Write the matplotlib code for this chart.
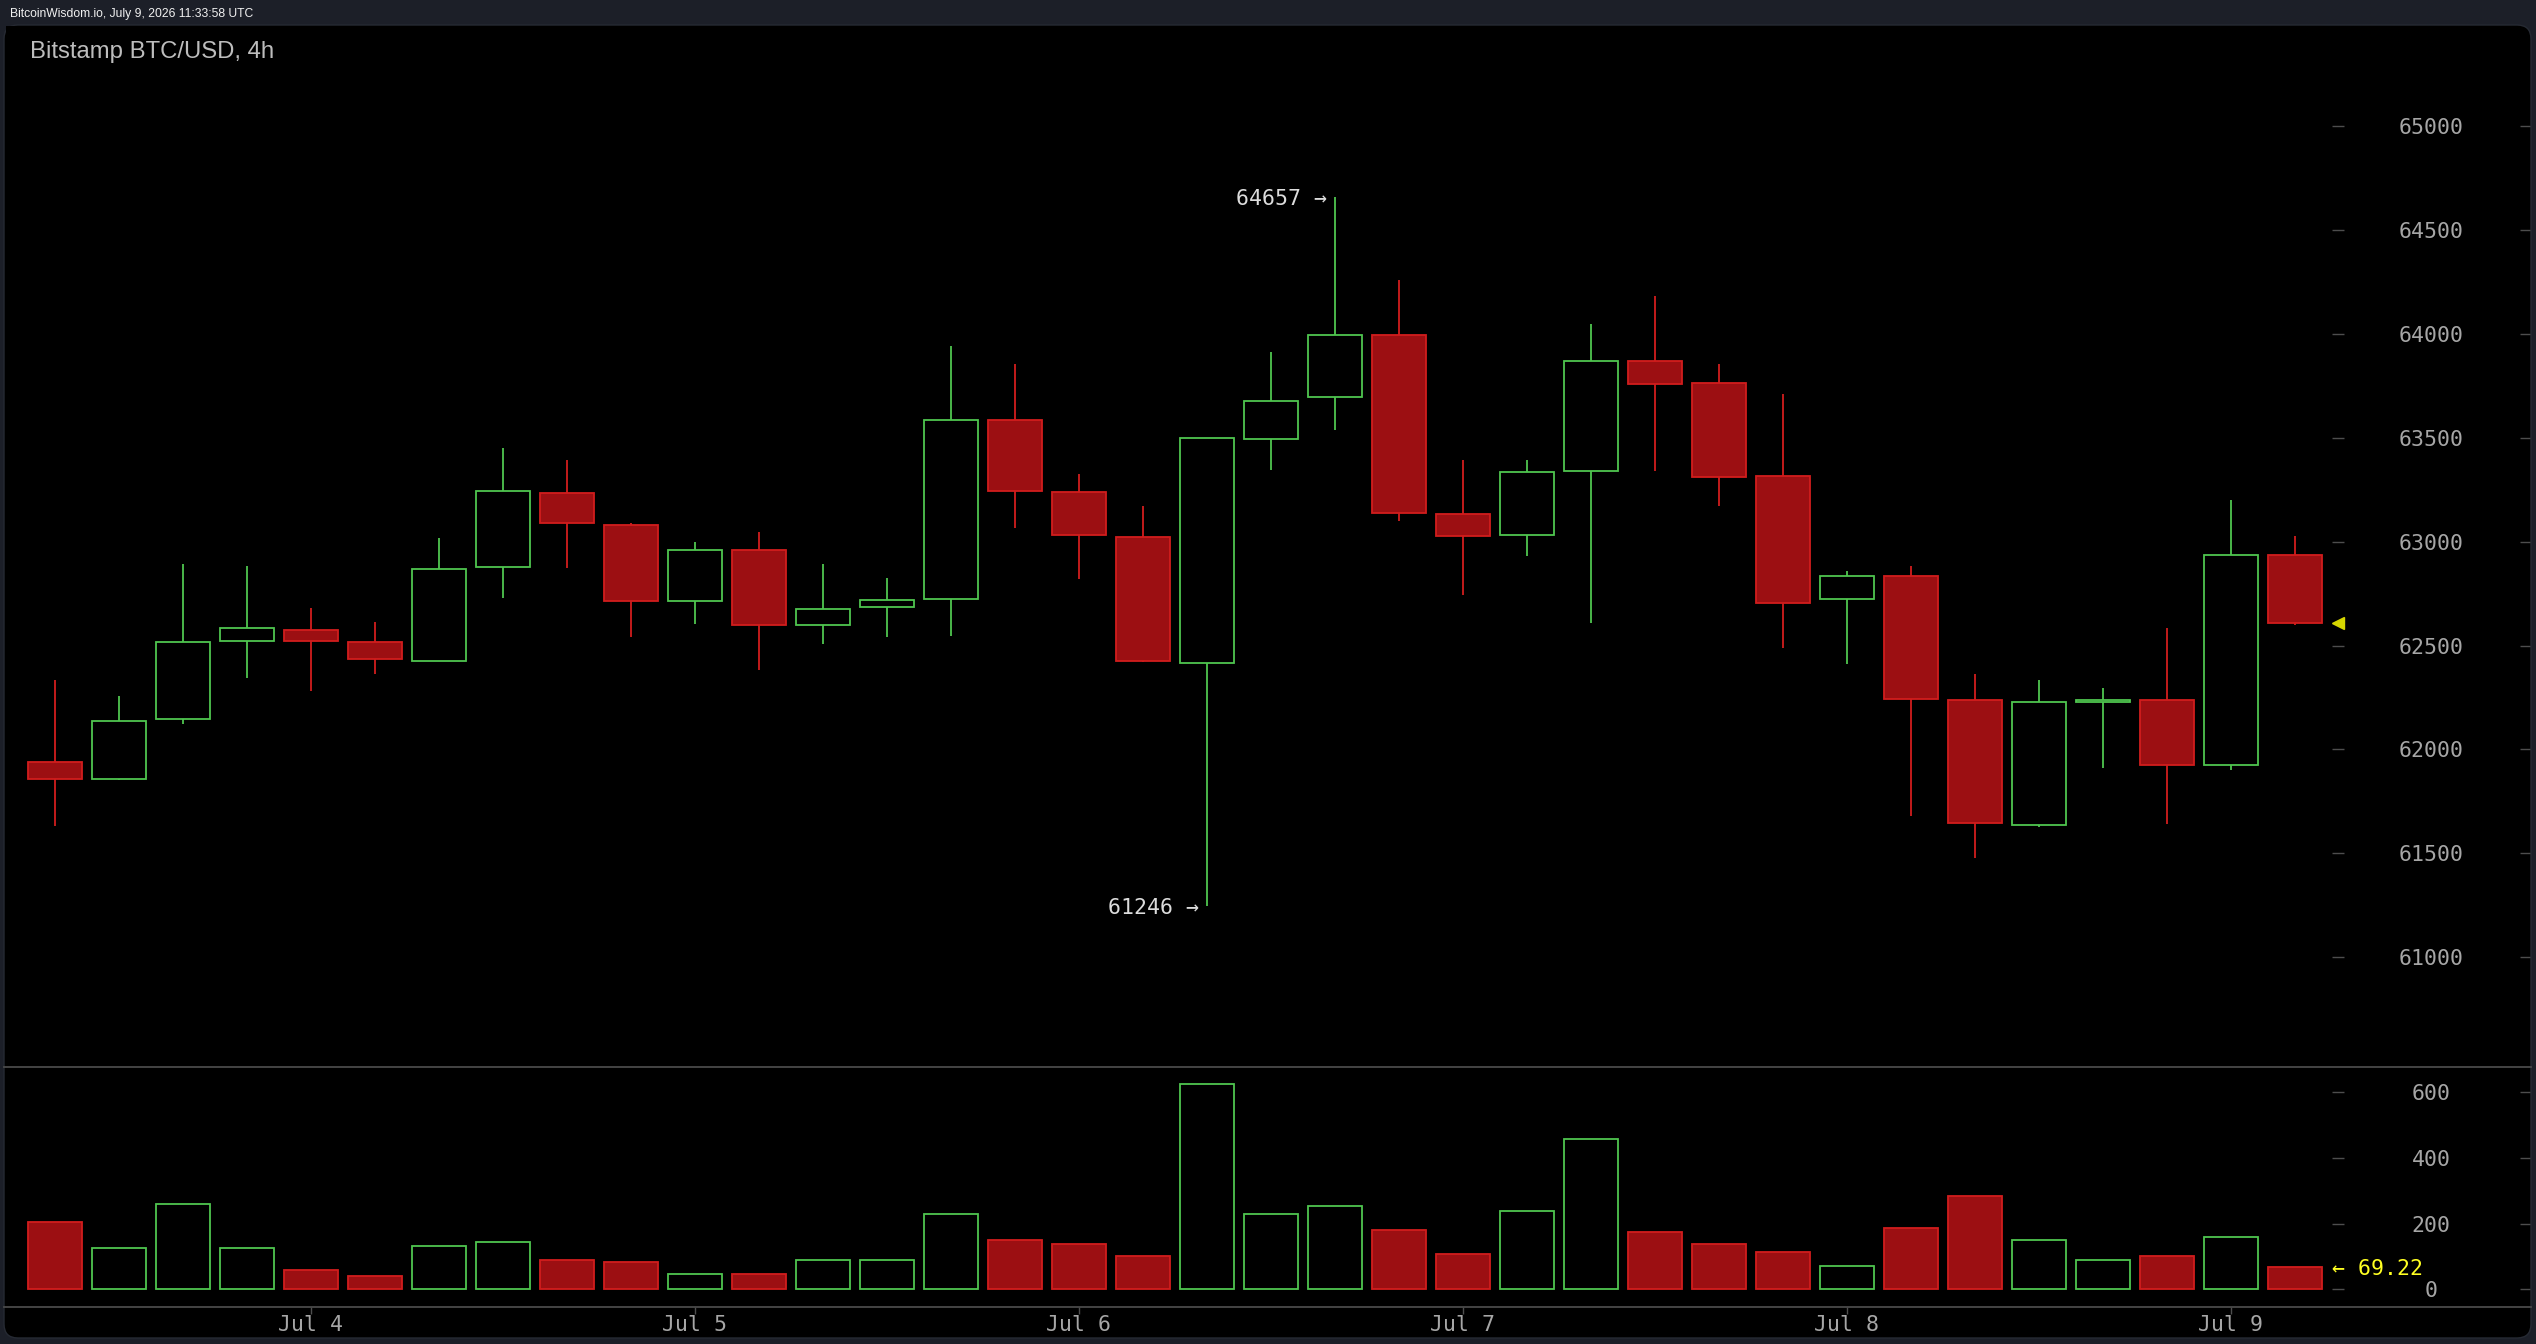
"""Bitstamp BTC/USD 4h candlestick chart with volume, BitcoinWisdom style."""

import matplotlib
matplotlib.use("Agg")
import matplotlib.pyplot as plt
import numpy as np
from matplotlib import font_manager
from matplotlib.lines import Line2D
from matplotlib.patches import FancyBboxPatch
from matplotlib.transforms import IdentityTransform, blended_transform_factory

# 4h candles, Jul 3 08:00 .. Jul 9 04:00
opens = [61938, 61857, 62146, 62522, 62573, 62515, 62426, 62879, 63236, 63082,
         62715, 62958, 62599, 62685, 62723, 63583, 63237, 63024, 62417, 63495,
         63696, 63996, 63131, 63031, 63340, 63871, 63765, 63314, 62723, 62833,
         62236, 61636, 62230, 62236, 61924, 62938]
highs = [62334, 62257, 62892, 62883, 62680, 62612, 63017, 63450, 63393, 63089,
         62996, 63046, 62893, 62824, 63941, 63856, 63325, 63172, 63500, 63912,
         64657, 64258, 63392, 63392, 64047, 64182, 63856, 63709, 62857, 62882,
         62362, 62334, 62296, 62584, 63200, 63026]
lows = [61630, 61855, 62124, 62345, 62279, 62365, 62424, 62730, 62873, 62539,
        62605, 62384, 62508, 62539, 62547, 63067, 62818, 62420, 61246, 63345,
        63539, 63097, 62741, 62933, 62606, 63338, 63173, 62489, 62412, 61679,
        61477, 61625, 61911, 61641, 61903, 62600]
closes = [61857, 62139, 62515, 62582, 62522, 62433, 62870, 63245, 63089, 62713,
          62958, 62599, 62678, 62717, 63583, 63243, 63030, 62427, 63497, 63679,
          63996, 63136, 63028, 63333, 63871, 63760, 63311, 62704, 62833, 62242,
          61645, 62227, 62236, 61924, 62938, 62607]
volumes = [205, 125, 259, 125, 60, 41, 131, 143, 90, 84,
           46, 47, 89, 89, 229, 150, 138, 102, 625, 229,
           253, 180, 108, 240, 458, 174, 138, 114, 70, 186,
           283, 149, 89, 102, 161, 69.22]

day_ticks = [4, 10, 16, 22, 28, 34]
day_labels = ["Jul 4", "Jul 5", "Jul 6", "Jul 7", "Jul 8", "Jul 9"]
price_ticks = [61000, 61500, 62000, 62500, 63000, 63500, 64000, 64500, 65000]
volume_ticks = [0, 200, 400, 600]

W, H, DPI = 2536, 1344, 100
GREEN = "#4fc64f"
RED_FILL = "#9c0f12"
RED_EDGE = "#d21d1d"
AXIS_TXT = "#a6a6a6"
TICK_CLR = "#4d4d4d"

plt.rcParams["font.family"] = "DejaVu Sans Mono"

names = {f.name for f in font_manager.fontManager.ttflist}
if "Liberation Sans Narrow" in names:
    hdr_font, hdr_size = "Liberation Sans Narrow", 10.5
else:
    hdr_font, hdr_size = "Liberation Sans", 8.7


def px_rect(x0, y0, x1, y1):
    # pixel box measured from the top-left -> figure fraction rect
    return [x0 / W, 1 - y1 / H, (x1 - x0) / W, (y1 - y0) / H]


fig = plt.figure(figsize=(W / DPI, H / DPI), dpi=DPI, facecolor="#1c1f28")

panel = FancyBboxPatch((4, H - 1338), 2527, 1313,
                       boxstyle="round,pad=0,rounding_size=14",
                       transform=IdentityTransform(), facecolor="black",
                       edgecolor="#262a33", lw=1, zorder=-1)
fig.add_artist(panel)

fig.text(10 / W, 1 - 14 / H, "BitcoinWisdom.io, July 9, 2026 11:33:58 UTC",
         family=hdr_font, fontsize=hdr_size, color="#f0f0f0", va="center", ha="left")
fig.text(30 / W, 1 - 52 / H, "Bitstamp BTC/USD, 4h", family="Liberation Sans",
         fontsize=17.2, color="#bdbdbd", va="center", ha="left")

ax = fig.add_axes(px_rect(6, 26, 2332, 1067))
axv = fig.add_axes(px_rect(6, 1067, 2332, 1307))
xlim = ((6 - 55) / 64, (2332 - 55) / 64)
sec_pos = (2530 - 6) / 2326

for a, ticks in ((ax, price_ticks), (axv, volume_ticks)):
    a.set_facecolor("black")
    for s in a.spines.values():
        s.set_visible(False)
    a.set_xlim(*xlim)
    a.yaxis.tick_right()
    a.set_yticks(ticks)
    a.tick_params(axis="y", direction="out", length=8.6, width=1, color=TICK_CLR,
                  pad=62.6, labelsize=15.5, labelcolor=AXIS_TXT)
    for lab in a.get_yticklabels():
        lab.set_horizontalalignment("center")
    sec = a.secondary_yaxis(sec_pos)
    sec.set_yticks(ticks)
    sec.tick_params(axis="y", direction="in", length=7.2, width=1, color=TICK_CLR,
                    labelright=False, labelleft=False)
    for s in sec.spines.values():
        s.set_visible(False)

ax.set_ylim(60472, 65481)
axv.set_ylim(-53.2, 676.3)
ax.tick_params(axis="x", bottom=False, labelbottom=False)
axv.set_xticks(day_ticks, day_labels)
axv.tick_params(axis="x", direction="out", length=5, width=1, color=TICK_CLR,
                pad=0.5, labelsize=15.5, labelcolor=AXIS_TXT)

o, h, l, c, v = (np.array(s, dtype=float) for s in (opens, highs, lows, closes, volumes))
x = np.arange(len(o))
up = c >= o
edge = [GREEN if u else RED_EDGE for u in up]
face = ["black" if u else RED_FILL for u in up]

ax.vlines(x, l, h, colors=edge, linewidth=1.3, zorder=1)
ax.bar(x, np.abs(c - o), bottom=np.minimum(o, c), width=0.83, color=face,
       edgecolor=edge, linewidth=1.3, zorder=2)
axv.bar(x, v, width=0.83, color=face, edgecolor=edge, linewidth=1.3)

# high / low markers
hi, lo = int(np.argmax(h)), int(np.argmin(l))
for i, val in ((hi, h[hi]), (lo, l[lo])):
    ax.annotate(f"{val:.0f} →", xy=(i, val), xytext=(-5.8, 0), textcoords="offset points",
                ha="right", va="center_baseline", color="#dcdcdc", fontsize=15.5)

# last price / last volume
trans = blended_transform_factory(ax.transAxes, ax.transData)
ax.plot([(2338 - 6) / 2326], [c[-1]], marker="<", ms=8.6, color="#d6d600",
        linestyle="none", transform=trans, clip_on=False)
axv.annotate(f"← {v[-1]:.2f}", xy=(1, v[-1]), xycoords=("axes fraction", "data"),
             ha="left", va="center_baseline", color="#ffff22", fontsize=15.5,
             annotation_clip=False)

for yy in (1067, 1307):
    fig.add_artist(Line2D([4 / W, 2531 / W], [1 - yy / H] * 2, color="#4a4a4a", lw=1.3))

fig.savefig("out.png", dpi=DPI, facecolor=fig.get_facecolor())
